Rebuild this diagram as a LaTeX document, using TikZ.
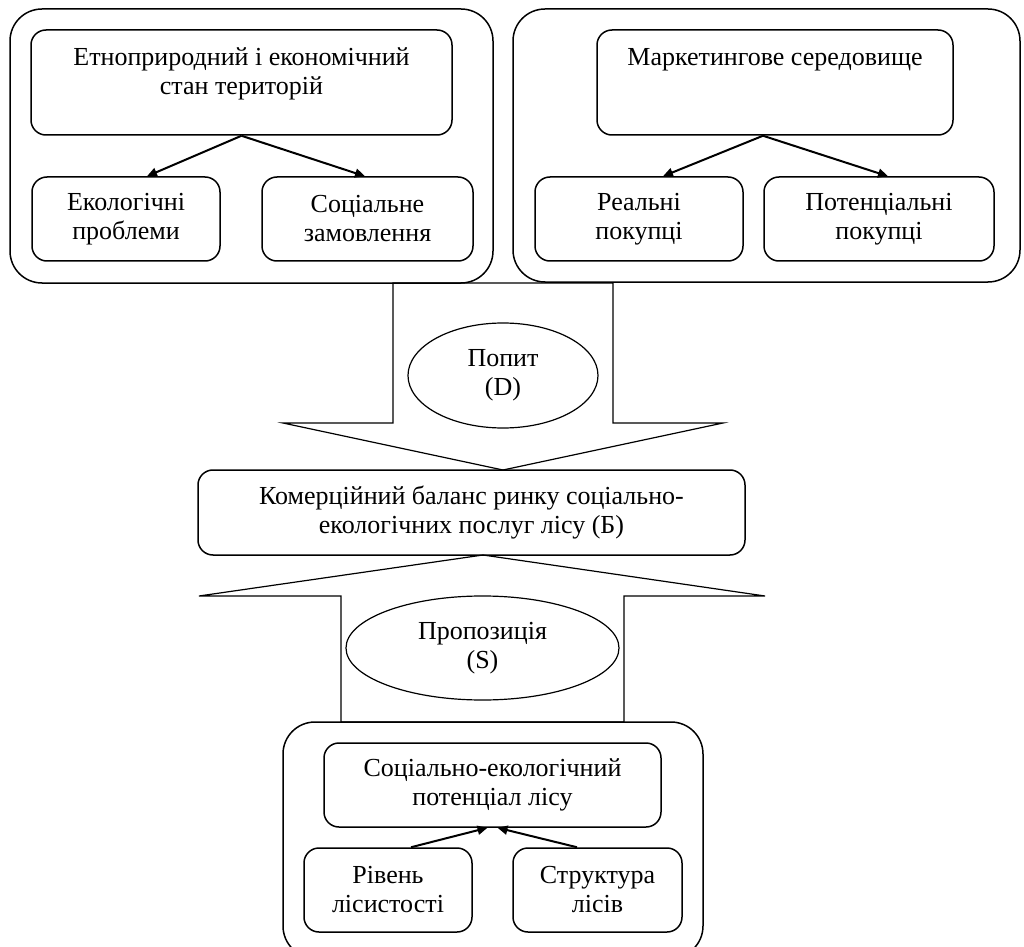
\documentclass[tikz,border=0pt]{standalone}
\usepackage{fontspec}
\setmainfont{Liberation Serif}
\usetikzlibrary{arrows.meta,shapes.geometric}
\begin{document}
\begin{tikzpicture}[x=0.5pt,y=-0.5pt,
  font=\fontsize{13}{14.5}\selectfont,
  outer/.style={draw, line width=0.75pt, rounded corners=16pt, inner sep=0pt},
  box/.style={draw, line width=0.75pt, rounded corners=7.5pt, align=center, inner sep=0pt},
  topbox/.style={draw, line width=0.75pt, rounded corners=7.5pt, inner sep=0pt},
  conn/.style={line width=1pt, -{Triangle[length=5pt,width=4.5pt]}},
  bigarrow/.style={draw, line width=0.6pt, line join=miter},
  oval/.style={draw, ellipse, line width=0.6pt, align=center, inner sep=0pt}]
\useasboundingbox (0,0) rectangle (1024,947);
\clip (0,0) rectangle (1024,947);

% upper containers
\node[outer, minimum width=241.5pt, minimum height=137pt] (L) at (251.5,146) {};
\node[outer, minimum width=253.5pt, minimum height=136.5pt] (R) at (766.5,145.5) {};

\node[topbox, minimum width=210.5pt, minimum height=52.5pt,
  label={[anchor=north, align=center, inner sep=0pt, yshift=-9pt]north:Етноприродний і економічний\\стан територій}] (Lt) at (241.5,82.5) {};
\node[box, minimum width=94pt, minimum height=42pt] (Lc1) at (126,219) {Екологічні\\проблеми};
\node[box, minimum width=105.5pt, minimum height=42pt] (Lc2) at (367.5,219) {Соціальне\\замовлення};

\node[topbox, minimum width=178pt, minimum height=52.5pt,
  label={[anchor=north, align=center, inner sep=0pt, yshift=-9.5pt]north:Маркетингове середовище}] (Rt) at (775,82.5) {};
\node[box, minimum width=104pt, minimum height=42pt] (Rc1) at (639,219) {Реальні\\покупці};
\node[box, minimum width=115pt, minimum height=42pt] (Rc2) at (879,219) {Потенціальні\\покупці};

\draw[conn] (Lt.south) -- ([xshift=10.5pt]Lc1.north);
\draw[conn] (Lt.south) -- ([xshift=-1.25pt]Lc2.north);
\draw[conn] ([xshift=-6pt]Rt.south) -- ([xshift=12pt]Rc1.north);
\draw[conn] ([xshift=-6pt]Rt.south) -- ([xshift=4.5pt]Rc2.north);

% demand arrow
\draw[bigarrow] (393,283) -- (613,283) -- (613,423) -- (723,423) -- (503,470)
  -- (283,423) -- (393,423) -- cycle;
\node[oval, minimum width=95pt, minimum height=52.5pt] (D) at (503,375.5) {Попит\\(D)};

% balance
\node[box, minimum width=273.5pt, minimum height=42.5pt] (M) at (471.5,512.5)
  {Комерційний баланс ринку соціально-\\екологічних послуг лісу (Б)};

% supply arrow
\draw[bigarrow] (483,555) -- (765,596) -- (624,596) -- (624,722) -- (341,722)
  -- (341,596) -- (199,596) -- cycle;
\node[oval, minimum width=136.5pt, minimum height=52pt] (S) at (482.5,648) {Пропозиція\\(S)};

% lower container
\node[outer, minimum width=210pt, minimum height=118pt] (B) at (493,840) {};
\node[box, minimum width=168.5pt, minimum height=42pt] (Bt) at (492.5,785) {Соціально-екологічний\\потенціал лісу};
\node[box, minimum width=84pt, minimum height=42pt] (Bc1) at (388,890) {Рівень\\лісистості};
\node[box, minimum width=84.5pt, minimum height=42pt] (Bc2) at (597.5,890) {Структура\\лісів};

\draw[conn] ([xshift=11.5pt]Bc1.north) -- ([xshift=-2.5pt]Bt.south);
\draw[conn] ([xshift=-10.25pt]Bc2.north) -- ([xshift=2.5pt]Bt.south);
\end{tikzpicture}
\end{document}
